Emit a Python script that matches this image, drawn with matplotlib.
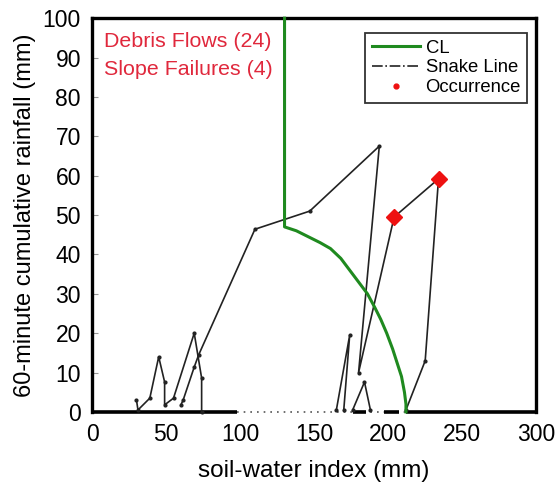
import matplotlib.pyplot as plt
from matplotlib.lines import Line2D

plt.rcParams["font.family"] = ["Liberation Sans", "DejaVu Sans"]

# Critical line (CL)
cl_x = [130, 130, 138, 146, 154, 161, 168, 174, 180, 186, 191, 195, 199,
        203, 206, 209, 211, 212, 212]
cl_y = [100, 47, 46, 44.5, 43, 41.5, 39, 36, 33, 30, 26.5, 23.5, 20,
        16, 12.5, 9, 5, 2, 0]

# Snake lines (soil-water index, 60-minute cumulative rainfall)
snake_a_x = [30, 31, 39, 45, 49, 49, 55, 69, 74, 74]
snake_a_y = [3, 0.5, 3.5, 14, 7.6, 1.8, 3.5, 20, 8.6, 0]

snake_b_x = [60, 61.5, 69, 72, 110, 147, 194, 180, 204, 234, 225, 212]
snake_b_y = [1.8, 3, 11.4, 14.5, 46.4, 51, 67.5, 10, 49.5, 59.2, 13, 0.5]

snake_c_x = [165, 174, 170]
snake_c_y = [0.5, 19.5, 0.5]

snake_d_x = [176, 184, 188]
snake_d_y = [0.5, 7.6, 0.5]

# zero-rainfall baseline pieces (x start, x end)
base_solid = [(0, 98), (176, 185), (197, 207), (212, 300)]
base_dotted = [(98, 212)]

# occurrences
occ_x = [204, 234]
occ_y = [49.5, 59.2]

GREEN = "#1f8a1f"
RED_TEXT = "#e0283c"

fig = plt.figure(figsize=(5.58, 4.91), dpi=100)
ax = fig.add_axes([0.165, 0.161, 0.796, 0.802])

for x0, x1 in base_dotted:
    ax.plot([x0, x1], [0, 0], color="#555555", lw=1.2, ls=(0, (1, 3)),
            clip_on=False, zorder=3)
for x0, x1 in base_solid:
    ax.plot([x0, x1], [0, 0], color="black", lw=2.6, clip_on=False,
            solid_capstyle="butt", zorder=3)

for sx, sy in [(snake_a_x, snake_a_y), (snake_b_x, snake_b_y),
               (snake_c_x, snake_c_y), (snake_d_x, snake_d_y)]:
    ax.plot(sx, sy, color="#222222", lw=1.2, marker=".", ms=4,
            clip_on=False, zorder=4)

ax.plot(cl_x, cl_y, color=GREEN, lw=2.2, zorder=5, clip_on=False)

ax.plot(occ_x, occ_y, ls="none", marker="D", ms=8, color="#ee1111",
        markeredgecolor="#ee1111", zorder=6)

ax.text(8, 94, "Debris Flows (24)", color=RED_TEXT, fontsize=15.4,
        va="center", ha="left")
ax.text(8, 87, "Slope Failures (4)", color=RED_TEXT, fontsize=15.4,
        va="center", ha="left")

handles = [
    Line2D([], [], color=GREEN, lw=2.2, label="CL"),
    Line2D([], [], color="#222222", lw=1.2, ls="-.", label="Snake Line"),
    Line2D([], [], ls="none", marker="o", ms=3.5, color="#ee1111",
           label="Occurrence"),
]
leg = ax.legend(handles=handles, loc="upper right", fontsize=13.3,
                bbox_to_anchor=(0.98, 0.962), frameon=True, fancybox=False,
                edgecolor="black", handlelength=2.6, handletextpad=0.3,
                labelspacing=0.15, borderpad=0.35, borderaxespad=0)
leg.get_frame().set_linewidth(1.3)

ax.set_xlim(0, 300)
ax.set_ylim(0, 100)
ax.set_xticks([0, 50, 100, 150, 200, 250, 300])
ax.set_yticks(range(0, 101, 10))
ax.tick_params(axis="y", direction="in", length=4, color="#999999",
               labelsize=16.5, pad=8)
ax.tick_params(axis="x", length=0, labelsize=16.5, pad=8)

for side in ["left", "top", "right"]:
    ax.spines[side].set_linewidth(2.4)
ax.spines["bottom"].set_visible(False)

ax.set_xlabel("soil-water index (mm)", fontsize=17.5, labelpad=10)
ax.set_ylabel("60-minute cumulative rainfall (mm)", fontsize=17, labelpad=5)

fig.savefig("out.png", dpi=100)
